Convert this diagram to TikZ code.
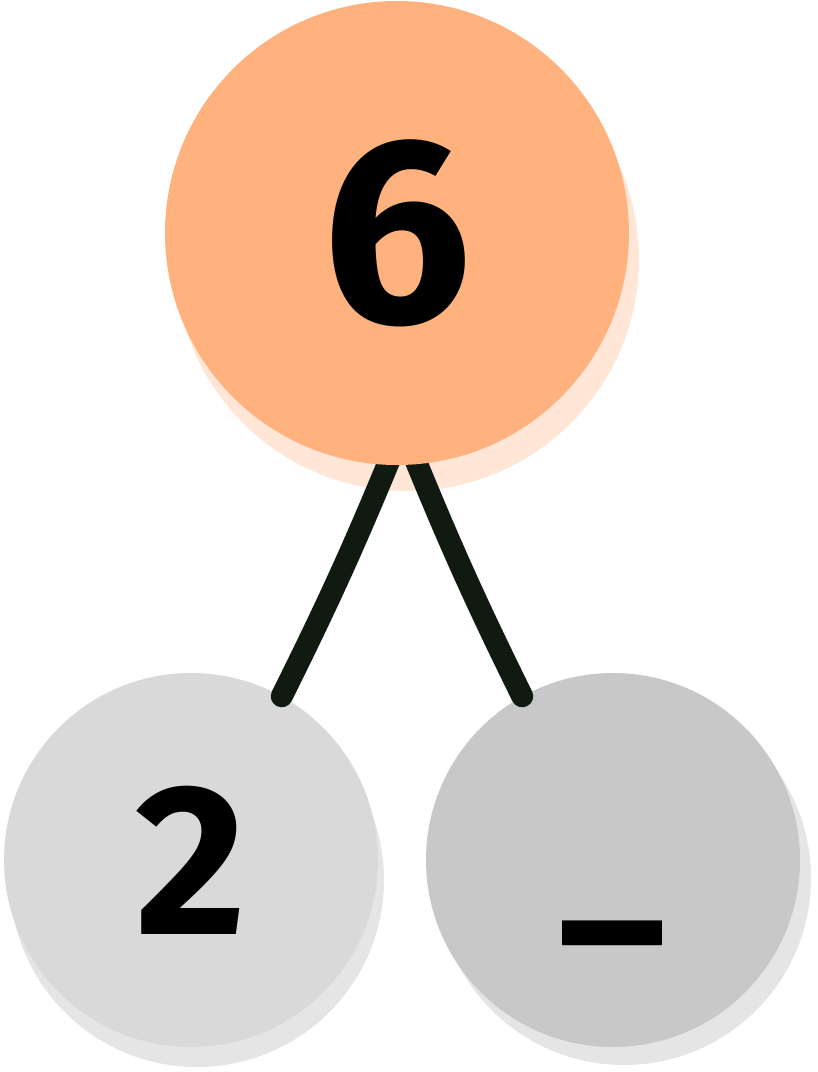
\documentclass[tikz,border=0pt]{standalone}
\usepackage{fontspec}
\setmainfont{Fira Sans}
\pgfdeclarelayer{back}
\pgfdeclarelayer{front}
\pgfsetlayers{back,main,front}
\definecolor{peach}{HTML}{FFB27D}
\definecolor{peachshade}{HTML}{FFE6D6}
\definecolor{greyL}{HTML}{D9D9D9}
\definecolor{greyD}{HTML}{C8C8C8}
\definecolor{greyshade}{HTML}{E5E5E5}
\definecolor{stickcol}{HTML}{111A11}
\tikzset{
  ball/.style={circle, inner sep=0pt, draw=none},
  digit/.style={font=\bfseries\fontsize{#1}{#1}\selectfont, inner sep=0pt},
  stick/.style={stickcol, line width=22pt, line cap=round}
}
\begin{document}
\begin{tikzpicture}[x=1pt,y=-1pt]
	\useasboundingbox (0,0) rectangle (818,1072);
	\begin{pgfonlayer}{front}
		\node[ball, minimum size=464pt, fill=peach, digit=265] (six) at (397,233) {6};
	\end{pgfonlayer}
	\node[ball, minimum size=374pt, fill=greyL, digit=215] (two) at (191,860) {2};
	\node[ball, minimum size=374pt, fill=greyD] (blank) at (613,860) {};
	\node[digit=200] (gap) at (612,929) {\_};
	% shadows
	\begin{pgfonlayer}{back}
		\fill[peachshade] ([shift={(10,26)}]six.center) circle (232pt);
		\fill[greyshade] ([shift={(6,20)}]two.center) circle (187pt);
		\fill[greyshade] ([shift={(11,18)}]blank.center) circle (187pt);
	\end{pgfonlayer}
	\draw[stick] ([xshift=-3pt,yshift=16pt]six.south) to[bend left=2] (two.61);
	\draw[stick] ([xshift=14pt,yshift=16pt]six.south) to[bend right=2] (blank.119);
\end{tikzpicture}
\end{document}
